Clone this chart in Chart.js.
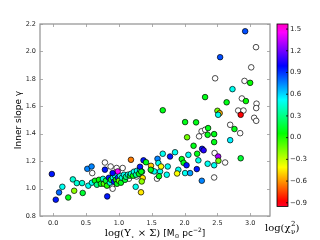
<!DOCTYPE html>
<html>
<head>
<meta charset="utf-8">
<script src="https://cdn.jsdelivr.net/npm/chart.js@4.4.1/dist/chart.umd.min.js"></script>
<style>
html,body{margin:0;padding:0;background:#fff;}
canvas{display:block;}
</style>
</head>
<body>
<canvas id="slopeChart" width="320" height="240"></canvas>
<script>
// galaxies with a fit: log(Y* x Sigma), inner slope, log(chi2_nu)
let fitX=[-0.02,0.04,0.09,0.14,0.23,0.30,0.32,0.36,0.44,0.45,0.52,0.585,0.535,
    0.59,0.636,0.666,0.697,0.727,0.758,0.773,0.803,0.819,0.849,0.864,0.88,0.91,0.925,0.941,0.956,0.971,0.986,1.002,1.017,1.032,1.047,1.078,1.093,1.108,1.139,1.169,1.184,1.215,1.23,1.261,1.276,1.306,1.322,1.352,
    0.788,0.982,0.905,0.823,1.184,1.337,1.256,1.375,1.413,1.322,1.341,1.363,1.348,1.489,1.505,1.588,1.601,1.627,1.642,1.744,1.668,1.779,1.855,1.957,1.985,2.058,2.03,2.21,2.351,2.186,1.905,2.008,2.084,1.886,2.262,1.611,1.54,1.485,1.729,
    2.038,2.351,2.137,2.267,2.29,2.191,2.511,2.515,2.45,2.854,1.668,2.008,2.175,2.358,2.45,2.45,2.312,2.64,2.933,2.5,2.534,2.511,2.854,2.759,2.694,2.729,2.998,2.541,2.922];
let fitY=[1.106,0.919,0.972,1.013,0.935,1.067,0.984,1.040,1.040,0.968,1.144,1.161,1.021,
    1.043,1.057,1.028,1.064,1.035,1.071,1.035,1.057,1.021,1.079,1.043,1.064,1.079,1.05,1.094,1.064,1.035,1.079,1.057,1.094,1.043,1.079,1.101,1.064,1.086,1.101,1.094,1.108,1.094,1.123,1.101,1.13,1.108,1.137,1.123,
    1.138,1.125,1.113,0.943,1.21,0.973,1.013,1.206,1.192,1.159,1.123,1.077,1.052,1.166,1.13,1.217,1.186,1.125,1.161,1.161,1.254,1.234,1.265,1.215,1.188,1.246,1.17,1.206,1.181,1.142,1.137,1.113,1.113,1.11,1.057,1.09,1.125,1.137,1.101,
    1.374,1.392,1.312,1.29,1.279,1.254,1.234,1.203,1.17,1.221,1.571,1.485,1.483,1.441,1.397,1.339,1.667,1.629,1.638,1.567,1.55,1.538,1.538,1.434,1.353,1.725,1.771,1.958,2.147];
let fitChi=[0.95,0.95,0.80,0.50,0.10,0.45,-0.20,0.45,0.45,0.15,0.75,0.75,0.50,
    0.5,0.1,0.3,0.05,0.1,0.45,-0.1,0.15,0.0,0.95,0.5,0.1,0.45,0.95,0.5,0.05,0.1,0.9,-0.15,0.5,0.1,0.45,0.5,0.15,0.3,0.5,0.1,0.45,0.05,0.5,0.35,0.5,0.1,0.5,0.45,
    0.95,1.45,1.0,0.95,-0.65,-0.45,0.5,0.95,0.1,0.95,0.1,-0.45,-0.2,-0.5,-0.45,0.75,0.5,0.5,-0.4,0.5,0.5,0.95,0.5,0.1,0.1,0.5,0.95,0.5,0.5,0.95,0.5,0.5,0.7,-0.4,0.75,0.1,0.5,0.1,0.5,
    -0.15,0.1,0.1,0.95,1.05,0.1,1.3,-0.15,0.5,0.15,0.1,0.1,0.1,0.1,0.1,0.1,0.1,0.1,0.05,-0.15,-0.55,0.5,-0.88,0.1,0.55,0.5,0.05,0.85,0.85];
// galaxies without chi2 (open symbols)
let openX=[0.595,0.895,1.154,0.788,0.875,0.966,0.905,2.45,1.581,1.058,1.271,2.221,2.457,2.617,2.259,2.313,2.872,3.095,3.09,2.816,2.896,3.059,3.09,2.694,2.846,2.912,2.465,3.014,3.087];
let openY=[1.113,1.021,1.072,1.19,1.161,1.15,0.999,1.081,1.072,1.15,1.088,1.381,1.259,1.19,1.418,1.429,1.657,1.619,1.587,1.569,1.569,1.516,1.494,1.465,1.404,1.785,1.804,1.884,2.031];

let xTicks=[0,0.5,1,1.5,2,2.5,3];
let yTicks=[0.8,1.0,1.2,1.4,1.6,1.8,2.0,2.2];
let cbTicks=[-0.9,-0.6,-0.3,0,0.3,0.6,0.9,1.2,1.5];
let chiMin=-0.95, chiMax=1.57;

// gist_rainbow
let rainbow=[[0,[1,0,0.16]],[0.03,[1,0,0]],[0.215,[1,1,0]],[0.4,[0,1,0]],[0.586,[0,1,1]],[0.77,[0,0,1]],[0.954,[1,0,1]],[1,[1,0,0.75]]];

function chiColor(v){
    let t=(v-chiMin)/(chiMax-chiMin);
    t=Math.max(0,Math.min(1,t));
    for(let i=1;i<rainbow.length;i++){
        if(t<=rainbow[i][0]){
            let a=rainbow[i-1], b=rainbow[i];
            let f=(t-a[0])/(b[0]-a[0]);
            let c=a[1].map((q,k)=>Math.round(255*(q+(b[1][k]-q)*f)));
            return "rgb("+c.join(",")+")";
        }
    }
    return "rgb(255,0,191)";
}

let fitPoints=fitX.map((v,i)=>({x:v,y:fitY[i]}));
let openPoints=openX.map((v,i)=>({x:v,y:openY[i]}));

const frame={
    id:"frame",
    afterDraw(chart){
        const {ctx,chartArea:a,scales:{x,y}}=chart;
        ctx.save();
        ctx.strokeStyle="#999";
        ctx.lineWidth=1.3;
        ctx.strokeRect(a.left,a.top,a.right-a.left,a.bottom-a.top);
        ctx.lineWidth=0.8;
        ctx.beginPath();
        xTicks.forEach(v=>{
            let p=Math.round(x.getPixelForValue(v))+0.5;
            ctx.moveTo(p,a.bottom);ctx.lineTo(p,a.bottom-3);
            ctx.moveTo(p,a.top);ctx.lineTo(p,a.top+3);
        });
        yTicks.forEach(v=>{
            let p=Math.round(y.getPixelForValue(v))+0.5;
            ctx.moveTo(a.left,p);ctx.lineTo(a.left+3,p);
            ctx.moveTo(a.right,p);ctx.lineTo(a.right-3,p);
        });
        ctx.stroke();

        //colorbar
        let cl=a.right+7, cw=11, ct=a.top, ch=(a.bottom-a.top)*0.95;
        let g=ctx.createLinearGradient(0,ct+ch,0,ct);
        rainbow.forEach(s=>g.addColorStop(s[0],"rgb("+s[1].map(q=>Math.round(q*255)).join(",")+")"));
        ctx.fillStyle=g;
        ctx.fillRect(cl,ct,cw,ch);
        ctx.strokeStyle="#000";
        ctx.lineWidth=0.8;
        ctx.strokeRect(cl,ct,cw,ch);
        ctx.fillStyle="#222";
        ctx.font="7px 'DejaVu Sans'";
        ctx.textAlign="left";
        ctx.textBaseline="middle";
        ctx.beginPath();
        cbTicks.forEach(v=>{
            let p=ct+ch-(v-chiMin)/(chiMax-chiMin)*ch;
            ctx.moveTo(cl+cw,p);ctx.lineTo(cl+cw-2,p);
            ctx.fillText(v.toFixed(1).replace("-","\u2212"),cl+cw+2,p);
        });
        ctx.stroke();

        //colorbar label log(chi2_nu)
        ctx.fillStyle="#000";
        ctx.textBaseline="alphabetic";
        ctx.font="10px 'DejaVu Serif'";
        let lx=265, ly=231;
        ctx.fillText("log(\u03c7",lx,ly);
        let w=ctx.measureText("log(\u03c7").width;
        ctx.font="7px 'DejaVu Serif'";
        ctx.fillText("2",lx+w+0.5,ly-5);
        ctx.fillText("\u03bd",lx+w+0.5,ly+2.5);
        ctx.font="10px 'DejaVu Serif'";
        ctx.fillText(")",lx+w+5,ly);

        //axis titles
        ctx.font="9px 'DejaVu Sans'";
        ctx.textAlign="center";
        ctx.save();
        ctx.translate(18,(a.top+a.bottom)/2);
        ctx.rotate(-Math.PI/2);
        ctx.fillText("Inner slope \u03b3",0,3);
        ctx.restore();

        let p1="log(\u03a5", p2="\u22c6", p3=" \u00d7 \u03a3)", p4=" [M", p5="\u2299", p6=" pc", p7="\u22122", p8="]";
        let serif="10px 'DejaVu Serif'", sans="9px 'DejaVu Sans'", small="6px 'DejaVu Sans'";
        let parts=[[p1,serif,0],[p2,small,3],[p3,serif,0],[p4,sans,0],[p5,small,2],[p6,sans,0],[p7,small,-4],[p8,sans,0]];
        let total=0;
        parts.forEach(q=>{ctx.font=q[1];total+=ctx.measureText(q[0]).width;});
        let tx=(a.left+a.right)/2-total/2, ty=236;
        ctx.textAlign="left";
        parts.forEach(q=>{ctx.font=q[1];ctx.fillText(q[0],tx,ty+q[2]);tx+=ctx.measureText(q[0]).width;});
        ctx.restore();
    }
};

new Chart(document.getElementById("slopeChart"),{
    type:"scatter",
    data:{
        datasets:[{
            label:"fit",
            data:fitPoints,
            pointRadius:2.8,
            pointBorderWidth:0.7,
            pointBorderColor:"#000",
            pointBackgroundColor:ctx=>chiColor(fitChi[ctx.dataIndex]),
            order:1
        },{
            label:"no chi2",
            data:openPoints,
            pointRadius:2.8,
            pointBorderWidth:0.7,
            pointBorderColor:"#000",
            pointBackgroundColor:"#fff",
            order:2
        }]
    },
    options:{
        responsive:false,
        animation:false,
        events:[],
        layout:{padding:{left:0,top:24,right:50,bottom:0}},
        plugins:{legend:{display:false},tooltip:{enabled:false}},
        scales:{
            x:{
                type:"linear",min:-0.2,max:3.3,
                afterBuildTicks:s=>{s.ticks=xTicks.map(v=>({value:v}));},
                afterFit:s=>{s.height=24;},
                grid:{display:false,drawTicks:false},
                border:{display:false},
                ticks:{padding:3,color:"#222",font:{family:"DejaVu Sans",size:6.5},callback:v=>v.toFixed(1)}
            },
            y:{
                min:0.8,max:2.2,
                afterBuildTicks:s=>{s.ticks=yTicks.map(v=>({value:v}));},
                afterFit:s=>{s.width=40;},
                grid:{display:false,drawTicks:false},
                border:{display:false},
                ticks:{padding:4,color:"#222",font:{family:"DejaVu Sans",size:6.5},callback:v=>v.toFixed(1)}
            }
        }
    },
    plugins:[frame]
});
</script>
</body>
</html>
